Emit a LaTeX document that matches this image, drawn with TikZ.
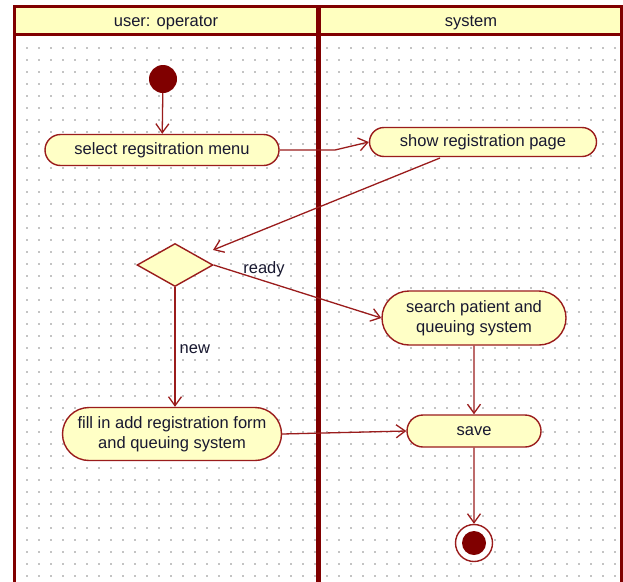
\documentclass[tikz,border=0pt]{standalone}
\usepackage{fontspec}
\setmainfont{Liberation Sans}
\usetikzlibrary{arrows.meta,shapes.misc,shapes.geometric}
\definecolor{frame}{HTML}{800000}
\definecolor{edge}{HTML}{9A1C1C}
\definecolor{hdr}{HTML}{FFFFC0}
\definecolor{nfill}{HTML}{FFFFC6}
\definecolor{txt}{HTML}{181830}
\definecolor{dotc}{HTML}{C4C4C4}
\tikzset{
  act/.style={rounded rectangle, draw=edge, fill=nfill, line width=1.4pt, inner sep=0pt,
    align=center, text=txt, font=\fontsize{16.5}{19.5}\selectfont},
  dec/.style={diamond, draw=edge, fill=nfill, line width=1.4pt, inner sep=0pt},
  flow/.style={draw=edge, line width=1.3pt, -{Straight Barb[length=9pt,width=13pt,line width=1.3pt]}},
  lbl/.style={text=txt, font=\fontsize{16.5}{19.5}\selectfont, inner sep=0pt},
  hdrtext/.style={text=txt, font=\fontsize{16.5}{19.5}\selectfont, inner sep=0pt}
}
\begin{document}
\begin{tikzpicture}[x=1pt,y=-1pt]
\useasboundingbox (0,0) rectangle (623,581);
\fill[white] (0,0) rectangle (623,581);
\begin{scope}
\clip (0,0) rectangle (623,581);
% dot grid
\foreach \x in {27,39,...,615}{
  \foreach \y in {48,60,...,580}{
    \fill[dotc] (\x-0.7,\y-0.7) rectangle (\x+0.7,\y+0.7);
  }
}
% header
\fill[hdr] (14,6) rectangle (621,34);
\draw[frame, line width=3pt] (14,600) -- (14,6) -- (621,6) -- (621,600);
\draw[frame, line width=3pt] (14,34) -- (621,34);
\draw[frame, line width=5pt] (318,6) -- (318,600);
\end{scope}
\node[hdrtext, anchor=base] (h1) at (166,26) {user: operator};
\node[hdrtext, anchor=base] (h2) at (471,26) {system};

% nodes
\node[circle, fill=frame, minimum size=28pt, inner sep=0pt] (start) at (163,79) {};
\node[act, minimum width=234pt, minimum height=31pt] (sel) at (162,150) {select regsitration menu};
\node[act, minimum width=227pt, minimum height=29pt] (show) at (483,142) {show registration page};
\node[dec, minimum width=76pt, minimum height=43pt] (dec) at (175,265) {};
\node[act, minimum width=184pt, minimum height=54pt] (search) at (474,318) {search patient and\\queuing system};
\node[act, minimum width=219pt, minimum height=53pt] (fill) at (172,434) {fill in add registration form\\and queuing system};
\node[act, minimum width=134pt, minimum height=32pt] (save) at (474,431) {save};
\node[circle, draw=edge, line width=1.4pt, fill=white, minimum size=37pt, inner sep=0pt] (end) at (474,543) {};
\node[circle, fill=frame, minimum size=24pt, inner sep=0pt] (endin) at (474,543) {};

% connectors
\coordinate (c1) at (335,150);
\coordinate (c2) at (440,158);
\coordinate (c3) at (213,250);
\draw[flow] (start) -- (sel);
\draw[flow] (sel.east) -- (c1) -- (show.west);
\draw[flow] (c2) -- (c3);
\draw[flow] (dec.east) -- (search.west) node[lbl, pos=0.3, above=3pt] (rdy) {ready};
\draw[flow] (dec.south) -- (dec.south |- fill.north) node[lbl, midway, right=4pt, yshift=-2pt] (nw) {new};
\draw[flow] (search) -- (save);
\draw[flow] (fill.east) -- (save.west);
\draw[flow] (save) -- (end);
\end{tikzpicture}
\end{document}
